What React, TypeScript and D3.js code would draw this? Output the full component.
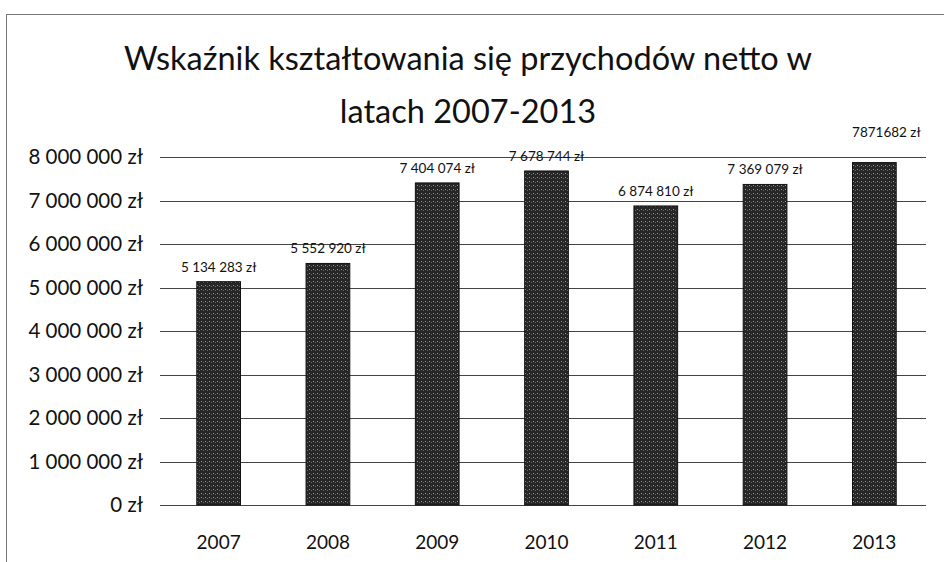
import React, { useEffect, useRef } from 'react';
import * as d3 from 'd3';

const years = ['2007', '2008', '2009', '2010', '2011', '2012', '2013'];
const revenue = [5134283, 5552920, 7404074, 7678744, 6874810, 7369079, 7871682];
const valueLabels = ['5 134 283 zł', '5 552 920 zł', '7 404 074 zł', '7 678 744 zł', '6 874 810 zł', '7 369 079 zł', '7871682 zł'];
const yTicks = [0, 1000000, 2000000, 3000000, 4000000, 5000000, 6000000, 7000000, 8000000];
const titleLines = ['Wskaźnik kształtowania się przychodów netto w', 'latach 2007-2013'];

const fmtTick = (v: number) => (v === 0 ? '0 zł' : d3.format(',')(v).replace(/,/g, ' ') + ' zł');

const App = () => {
  const ref = useRef<SVGSVGElement>(null);

  useEffect(() => {
    const svg = d3.select(ref.current);
    svg.selectAll('*').remove();

    const width = 944, height = 562;
    const font = 'Lato, "Open Sans", sans-serif';
    svg.attr('width', width).attr('height', height);

    // halftone-ish fill for the bars, like the scan
    const defs = svg.append('defs');
    const pat = defs.append('pattern')
      .attr('id', 'dots')
      .attr('width', 4).attr('height', 4)
      .attr('patternUnits', 'userSpaceOnUse');
    pat.append('rect').attr('width', 4).attr('height', 4).attr('fill', '#262626');
    pat.append('rect').attr('x', 1).attr('y', 1).attr('width', 1).attr('height', 1).attr('fill', '#9a9a9a');
    pat.append('rect').attr('x', 3).attr('y', 2).attr('width', 1).attr('height', 1).attr('fill', '#6a6a6a');

    svg.append('rect')
      .attr('x', 6.5).attr('y', 14.5)
      .attr('width', 945).attr('height', 560)
      .attr('fill', 'white')
      .attr('stroke', '#777').attr('stroke-width', 1);

    const x = d3.scaleBand().domain(years).range([164, 929]).paddingInner(0.6).paddingOuter(0.3);
    const y = d3.scaleLinear().domain([0, 8000000]).range([505, 157]);

    svg.append('g')
      .selectAll('text')
      .data(titleLines)
      .join('text')
      .attr('x', 468)
      .attr('y', (d, i) => 70 + i * 53)
      .attr('text-anchor', 'middle')
      .attr('font-family', font)
      .attr('font-size', 32.5)
      .attr('fill', '#111')
      .text(d => d);

    const grid = svg.append('g');
    grid.selectAll('line')
      .data(yTicks)
      .join('line')
      .attr('x1', 160).attr('x2', 926)
      .attr('y1', d => Math.round(y(d)) + 0.5)
      .attr('y2', d => Math.round(y(d)) + 0.5)
      .attr('stroke', '#444')
      .attr('stroke-width', 1);

    grid.selectAll('text')
      .data(yTicks)
      .join('text')
      .attr('x', 143)
      .attr('y', d => y(d))
      .attr('dy', '0.35em')
      .attr('text-anchor', 'end')
      .attr('font-family', font)
      .attr('font-size', 20.5)
      .attr('fill', '#111')
      .text(d => fmtTick(d));

    svg.append('g')
      .selectAll('rect')
      .data(revenue)
      .join('rect')
      .attr('x', (d, i) => x(years[i])!)
      .attr('y', d => y(d))
      .attr('width', x.bandwidth())
      .attr('height', d => y(0) - y(d))
      .attr('fill', 'url(#dots)')
      .attr('stroke', '#111')
      .attr('stroke-width', 1);

    svg.append('g')
      .selectAll('text')
      .data(revenue)
      .join('text')
      .attr('x', (d, i) => x(years[i])! + x.bandwidth() / 2 + (i === 6 ? 12 : 0))
      .attr('y', (d, i) => y(d) - (i === 6 ? 26 : 10))
      .attr('text-anchor', 'middle')
      .attr('font-family', font)
      .attr('font-size', 13.5)
      .attr('fill', '#111')
      .text((d, i) => valueLabels[i]);

    svg.append('g')
      .selectAll('text')
      .data(years)
      .join('text')
      .attr('x', d => x(d)! + x.bandwidth() / 2)
      .attr('y', 549)
      .attr('text-anchor', 'middle')
      .attr('font-family', font)
      .attr('font-size', 19)
      .attr('fill', '#111')
      .text(d => d);
  }, []);

  return <svg ref={ref} style={{ position: 'absolute', left: 0, top: 0 }}></svg>;
};

export default App;
